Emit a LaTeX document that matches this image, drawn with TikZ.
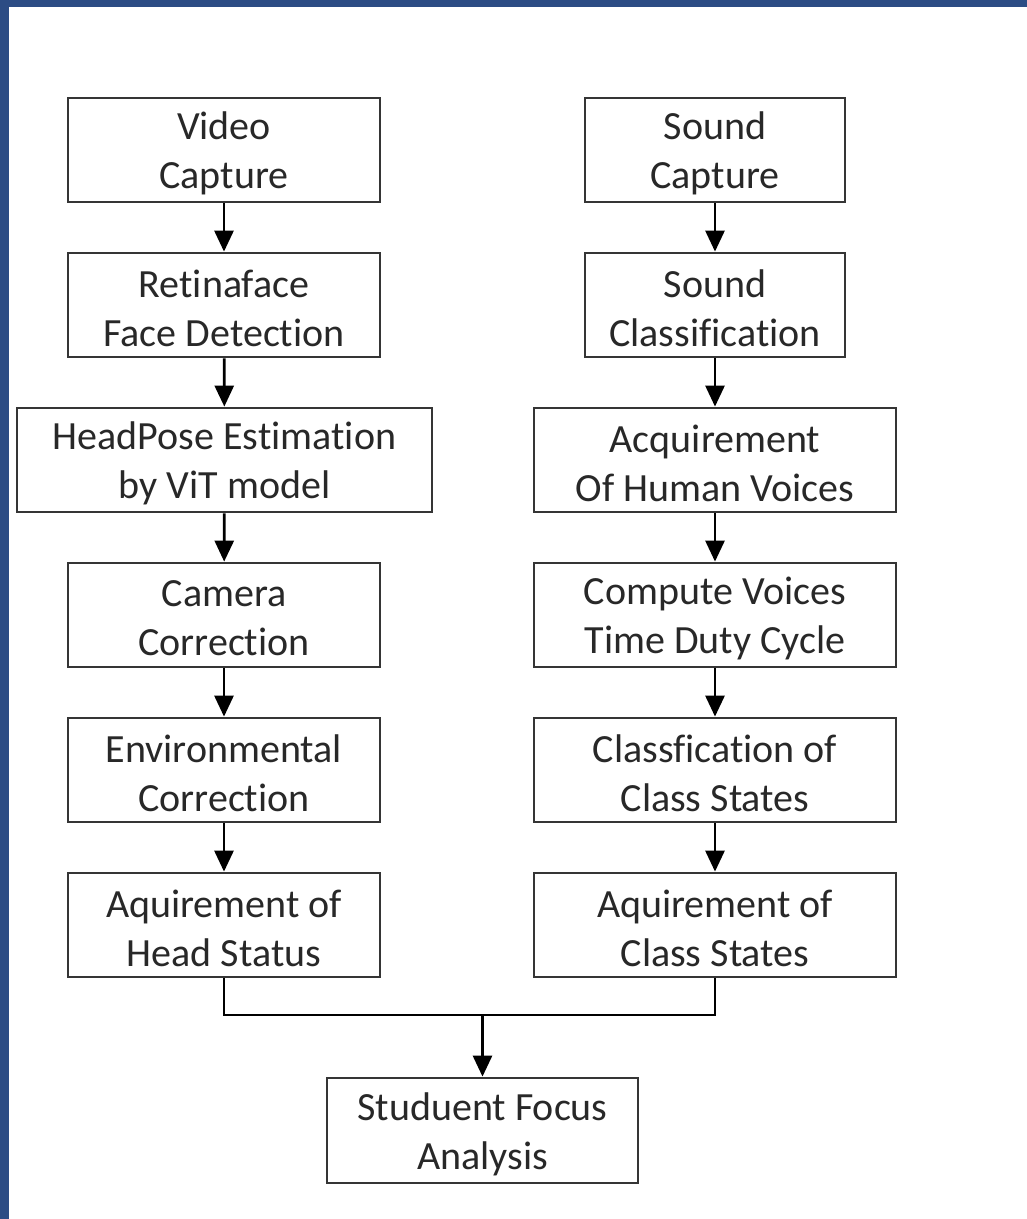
\documentclass[tikz,border=0pt]{standalone}
\usepackage{fontspec}
\setmainfont[Ligatures=NoCommon]{Carlito}
\usetikzlibrary{arrows.meta}
\definecolor{frameblue}{HTML}{2C4C84}
\definecolor{boxline}{HTML}{353535}
\definecolor{txt}{HTML}{282828}
\begin{document}
\begin{tikzpicture}[x=1pt,y=-1pt,
  box/.style={draw=boxline,line width=2.8pt,fill=white,minimum height=104pt,inner sep=0pt},
  lab/.style={align=center,text=txt,font=\fontsize{40}{49}\selectfont,inner sep=0pt,yshift=-3.5pt},
  narrowL/.style={box,minimum width=312pt},
  wideL/.style={box,minimum width=415pt},
  narrowR/.style={box,minimum width=260pt},
  wideR/.style={box,minimum width=362pt},
  flow/.style={line width=2.8pt,black,-{Triangle[length=21pt,width=19pt]}},
  mergeline/.style={line width=2.8pt,black,line join=miter}]
\useasboundingbox (0,0) rectangle (1027,1219);
\fill[white] (0,0) rectangle (1027,1219);
\fill[frameblue] (0,0) rectangle (1027,7);
\fill[frameblue] (0,0) rectangle (9,1219);

\node[narrowL,label={[lab]center:{Video\\Capture}}] (l1) at (224,150) {};
\node[narrowL,label={[lab]center:{Retinaface\\Face Detection}}] (l2) at (224,305) {};
\node[wideL,label={[lab]center:{HeadPose Estimation\\by ViT model}}] (l3) at (224.5,460) {};
\node[narrowL,label={[lab]center:{Camera\\Correction}}] (l4) at (224,615) {};
\node[narrowL,label={[lab]center:{Environmental\\Correction}}] (l5) at (224,770) {};
\node[narrowL,label={[lab]center:{Aquirement of\\Head Status}}] (l6) at (224,925) {};

\node[narrowR,label={[lab]center:{Sound\\Capture}}] (r1) at (715,150) {};
\node[narrowR,label={[lab]center:{Sound\\Classification}}] (r2) at (715,305) {};
\node[wideR,label={[lab]center:{Acquirement\\Of Human Voices}}] (r3) at (715,460) {};
\node[wideR,label={[lab]center:{Compute Voices\\Time Duty Cycle}}] (r4) at (715,615) {};
\node[wideR,label={[lab]center:{Classfication of\\Class States}}] (r5) at (715,770) {};
\node[wideR,label={[lab]center:{Aquirement of\\Class States}}] (r6) at (715,925) {};

\node[box,minimum width=311pt,minimum height=105pt,label={[lab]center:{Studuent Focus\\Analysis}}] (sf) at (482.5,1130.5) {};

\draw[flow] (l1) -- (l2);
\draw[flow] (l2) -- (l3);
\draw[flow] (l3) -- (l4);
\draw[flow] (l4) -- (l5);
\draw[flow] (l5) -- (l6);
\draw[flow] (r1) -- (r2);
\draw[flow] (r2) -- (r3);
\draw[flow] (r3) -- (r4);
\draw[flow] (r4) -- (r5);
\draw[flow] (r5) -- (r6);

\coordinate (jl) at (224,1015);
\coordinate (jr) at (715,1015);
\coordinate (jm) at (sf.north |- jl);
\draw[mergeline] (l6.south) -- (jl) -- (jr) -- (r6.south);
\draw[flow] (jm) -- (sf.north);
\end{tikzpicture}
\end{document}
